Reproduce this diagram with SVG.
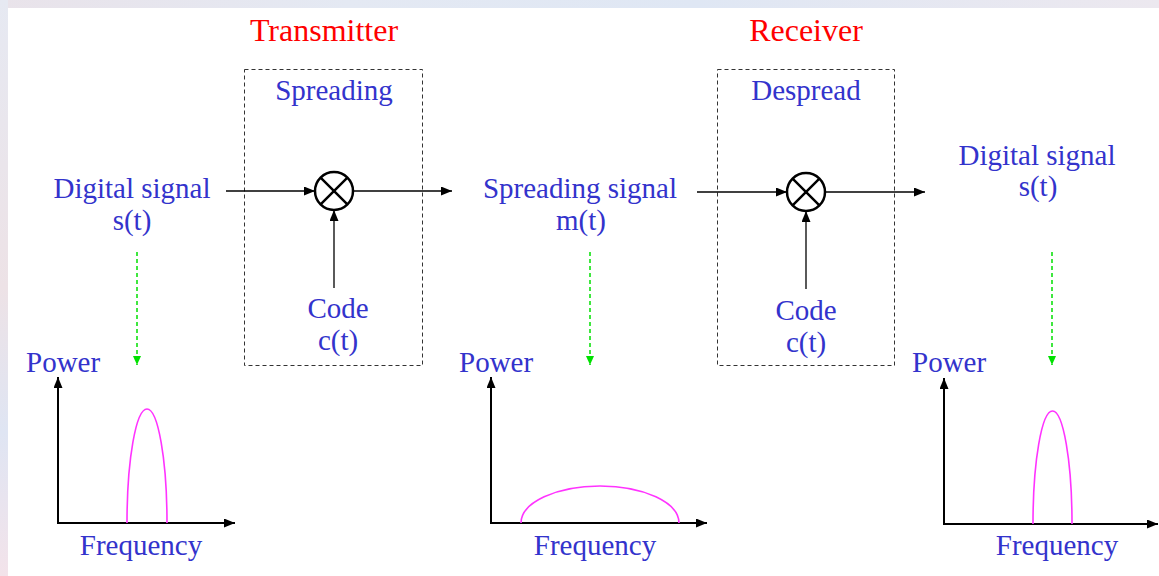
<svg xmlns="http://www.w3.org/2000/svg" width="1159" height="576" viewBox="0 0 1159 576">
<defs>
<linearGradient id="bgTop" x1="0" y1="0" x2="1" y2="0">
<stop offset="0" stop-color="#e9e3ea"/><stop offset="0.3" stop-color="#e4e9f3"/><stop offset="0.6" stop-color="#dfe7f4"/><stop offset="1" stop-color="#ece8ef"/>
</linearGradient>
<linearGradient id="bgLeft" x1="0" y1="0" x2="0" y2="1">
<stop offset="0" stop-color="#e6e9f2"/><stop offset="0.5" stop-color="#ede2e6"/><stop offset="0.75" stop-color="#dfe5f3"/><stop offset="1" stop-color="#f3e3ea"/>
</linearGradient>
<marker id="ah" markerUnits="userSpaceOnUse" markerWidth="12" markerHeight="10" refX="11" refY="4.5" orient="auto">
<path d="M0,0 L11,4.5 L0,9 z" fill="#000"/>
</marker>
<marker id="gh" markerUnits="userSpaceOnUse" markerWidth="10" markerHeight="10" refX="9" refY="4" orient="auto">
<path d="M0,0 L9,4 L0,8 z" fill="#00e000"/>
</marker>
<style>
.t{font-family:"Liberation Serif","Times New Roman",serif;fill:#3333cc;font-size:29px;text-anchor:middle}
.l{text-anchor:start}
.r{font-family:"Liberation Serif","Times New Roman",serif;fill:#ff0000;font-size:32px;text-anchor:middle}
.box{fill:none;stroke:#333;stroke-width:1;stroke-dasharray:4 3}
.ln{stroke:#000;stroke-width:1.3;fill:none}
.ax{stroke:#000;stroke-width:2;fill:none}
.mul{fill:#fff;stroke:#000;stroke-width:2.5}
.gr{stroke:#00e000;stroke-width:1.5;stroke-dasharray:4 3;fill:none}
.sp{stroke:#ff33ff;stroke-width:1.6;fill:none}
</style>
</defs>
<rect x="0" y="0" width="1159" height="576" fill="#fff"/>
<rect x="0" y="0" width="1159" height="8" fill="url(#bgTop)"/>
<rect x="0" y="0" width="8" height="576" fill="url(#bgLeft)"/>

<g id="titles">
<text class="r" x="324" y="41">Transmitter</text>
<text class="r" x="806" y="41">Receiver</text>
</g>

<g id="spreading-box">
<rect class="box" x="244.5" y="69.5" width="178" height="296"/>
<text class="t" x="334" y="100">Spreading</text>
</g>
<g id="despread-box">
<rect class="box" x="717.5" y="69.5" width="177" height="296"/>
<text class="t" x="806" y="100">Despread</text>
</g>

<g id="mult1">
<circle class="mul" cx="334" cy="191" r="19"/>
<path class="ln" d="M320.6,177.6 L347.4,204.4 M347.4,177.6 L320.6,204.4" style="stroke-width:2.5"/>
</g>
<g id="mult2">
<circle class="mul" cx="806" cy="192" r="19"/>
<path class="ln" d="M792.6,178.6 L819.4,205.4 M819.4,178.6 L792.6,205.4" style="stroke-width:2.5"/>
</g>

<g id="input-signal">
<text class="t" x="132" y="198">Digital signal</text>
<text class="t" x="132" y="230">s(t)</text>
</g>
<g id="spreading-signal">
<text class="t" x="580" y="198">Spreading signal</text>
<text class="t" x="581" y="230">m(t)</text>
</g>
<g id="output-signal">
<text class="t" x="1037" y="165">Digital signal</text>
<text class="t" x="1038" y="196">s(t)</text>
</g>
<g id="code1">
<text class="t" x="338" y="318">Code</text>
<text class="t" x="338" y="350">c(t)</text>
</g>
<g id="code2">
<text class="t" x="806" y="320">Code</text>
<text class="t" x="806" y="352">c(t)</text>
</g>

<g id="connectors">
<line class="ln" x1="226" y1="191" x2="315" y2="191" marker-end="url(#ah)"/>
<line class="ln" x1="353" y1="191" x2="452" y2="191" marker-end="url(#ah)"/>
<line class="ln" x1="334" y1="288" x2="334" y2="210" marker-end="url(#ah)"/>
<line class="ln" x1="697" y1="192" x2="787" y2="192" marker-end="url(#ah)"/>
<line class="ln" x1="825" y1="192" x2="925" y2="192" marker-end="url(#ah)"/>
<line class="ln" x1="806" y1="289" x2="806" y2="211" marker-end="url(#ah)"/>
<line class="gr" x1="137" y1="252" x2="137" y2="365" marker-end="url(#gh)"/>
<line class="gr" x1="590" y1="252" x2="590" y2="365" marker-end="url(#gh)"/>
<line class="gr" x1="1052" y1="252" x2="1052" y2="365" marker-end="url(#gh)"/>
</g>

<g id="spectrum1">
<text class="t l" x="26" y="372">Power</text>
<path class="ax" d="M58,523 L58,377" marker-end="url(#ah)"/>
<path class="ax" d="M57,523 L235,523" marker-end="url(#ah)"/>
<path class="sp" d="M127,523 A20,114 0 0 1 167,523"/>
<text class="t" x="141" y="555">Frequency</text>
</g>
<g id="spectrum2">
<text class="t l" x="459" y="372">Power</text>
<path class="ax" d="M491,523 L491,377" marker-end="url(#ah)"/>
<path class="ax" d="M490,523 L707,523" marker-end="url(#ah)"/>
<path class="sp" d="M521,523 A79,37 0 0 1 679,523"/>
<text class="t" x="595" y="555">Frequency</text>
</g>
<g id="spectrum3">
<text class="t l" x="912" y="372">Power</text>
<path class="ax" d="M944,524 L944,378" marker-end="url(#ah)"/>
<path class="ax" d="M943,524 L1158,524" marker-end="url(#ah)"/>
<path class="sp" d="M1033,524 A19.5,113 0 0 1 1072,524"/>
<text class="t" x="1057" y="555">Frequency</text>
</g>
</svg>
